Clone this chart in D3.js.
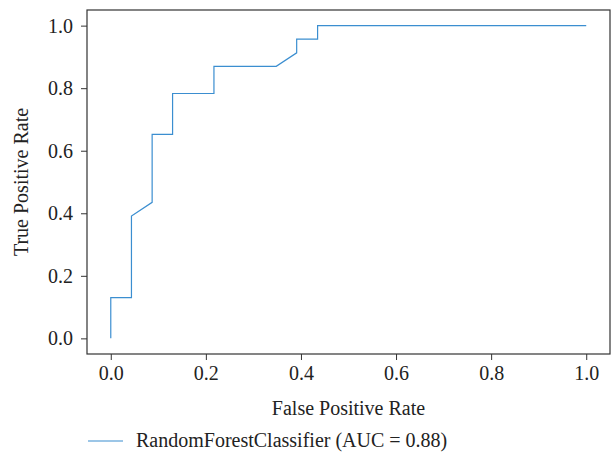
<!DOCTYPE html>
<html>
<head>
<meta charset="utf-8">
<script src="https://cdn.jsdelivr.net/npm/d3@7"></script>
<style>
  body { margin: 0; background: #fff; }
  text { font-family: "Liberation Serif", "DejaVu Serif", serif; fill: #222; }
</style>
</head>
<body>
<div id="chart"></div>
<script>
(function () {

  // ROC curve points (fpr, tpr)
  const fpr = [0, 0, 0.0435, 0.0435, 0.087, 0.087, 0.13, 0.13, 0.217, 0.217, 0.348, 0.391, 0.391, 0.435, 0.435, 1.0]
  const tpr = [0, 0.13, 0.13, 0.391, 0.435, 0.652, 0.652, 0.783, 0.783, 0.870, 0.870, 0.913, 0.957, 0.957, 1.0, 1.0]
  const tickValues = [0, 0.2, 0.4, 0.6, 0.8, 1.0]
  const legendLabel = "RandomForestClassifier (AUC = 0.88)"

  const margin = { top: 10, right: 3, bottom: 104, left: 87 }
  const width = 613 - margin.left - margin.right
  const height = 458 - margin.top - margin.bottom
  const fontSize = 20

  const svg = d3.select("#chart").append("svg")
      .attr("width", 613)
      .attr("height", 458)
    .append("g")
      .attr("transform", "translate(" + margin.left + "," + margin.top + ")")

  const x = d3.scaleLinear().domain([-0.05, 1.05]).range([0, width])
  const y = d3.scaleLinear().domain([-0.05, 1.05]).range([height, 0])

  const points = fpr.map((d, i) => [d, tpr[i]])

  svg.append("path")
    .datum(points)
    .attr("fill", "none")
    .attr("stroke", "#3b8ed0")
    .attr("stroke-width", 1.2)
    .attr("d", d3.line().x(d => x(d[0])).y(d => y(d[1])))

  const xAxis = svg.append("g")
    .attr("transform", "translate(0," + height + ")")
    .call(d3.axisBottom(x).tickValues(tickValues).tickFormat(d3.format(".1f")).tickSize(6).tickPadding(6))
  const yAxis = svg.append("g")
    .call(d3.axisLeft(y).tickValues(tickValues).tickFormat(d3.format(".1f")).tickSize(6).tickPadding(8))

  xAxis.selectAll("text").attr("font-size", fontSize)
  yAxis.selectAll("text").attr("font-size", fontSize)
  svg.selectAll(".domain").remove()
  svg.selectAll(".tick line").attr("stroke", "#333")

  // frame
  svg.append("rect")
    .attr("width", width)
    .attr("height", height)
    .attr("fill", "none")
    .attr("stroke", "#333")
    .attr("stroke-width", 1.2)

  svg.append("text")
    .attr("x", width / 2)
    .attr("y", height + 61)
    .attr("text-anchor", "middle")
    .attr("font-size", fontSize)
    .text("False Positive Rate")

  svg.append("text")
    .attr("transform", "translate(" + (-59) + "," + (height / 2) + ") rotate(-90)")
    .attr("text-anchor", "middle")
    .attr("font-size", fontSize)
    .text("True Positive Rate")

  // legend
  const legend = svg.append("g").attr("transform", "translate(0," + (height + 87) + ")")
  legend.append("line")
    .attr("x1", 1).attr("x2", 36)
    .attr("stroke", "#3b8ed0")
    .attr("stroke-width", 1.2)
  legend.append("text")
    .attr("x", 49)
    .attr("dy", "0.32em")
    .attr("font-size", fontSize)
    .text(legendLabel)

})();
</script>
</body>
</html>
